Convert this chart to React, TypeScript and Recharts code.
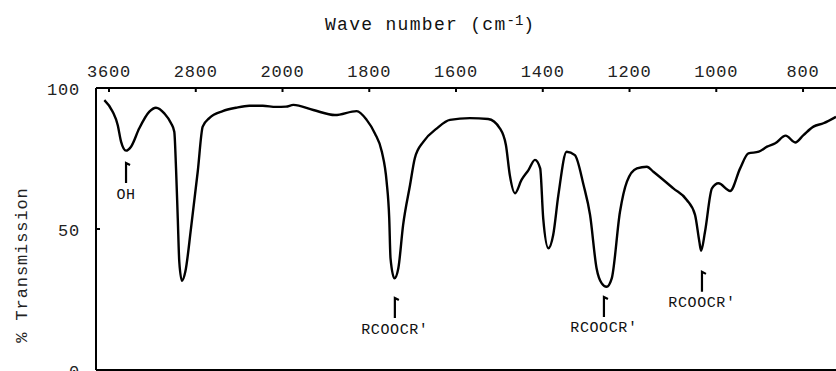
import React from 'react';
import { LineChart, Line, XAxis, YAxis, ReferenceLine, ReferenceDot } from 'recharts';

// wave number (cm-1) vs % transmission
const WAVE_NUMBERS = [
  3643, 3566, 3520, 3489, 3443, 3397, 3321, 3228, 3167, 3090, 3028, 2998, 2982, 2966,
  2952, 2927, 2896, 2844, 2782, 2736, 2675, 2551, 2429, 2306, 2182, 2060, 1992, 1975,
  1929, 1879, 1829, 1806, 1787, 1771, 1760, 1754, 1751, 1742, 1733, 1722, 1706, 1695,
  1675, 1644, 1614, 1568, 1526, 1499, 1485, 1476, 1464, 1449, 1433, 1418, 1406, 1399,
  1387, 1376, 1364, 1345, 1326, 1306, 1291, 1276, 1264, 1253, 1241, 1222, 1206, 1183,
  1160, 1145, 1099, 1068, 1049, 1039, 1035, 1026, 1010, 995, 968, 945, 926, 902, 883,
  864, 840, 818, 799, 776, 753, 724,
];
const TRANSMISSION = [
  95.7, 91.6, 86.9, 81.0, 77.8, 79.2, 85.7, 91.6, 93.0, 91.0, 87.5, 84.5, 71.5, 53.8,
  38.4, 31.6, 34.9, 50.2, 70.3, 86.3, 89.3, 91.8, 93.0, 93.7, 93.7, 93.3, 93.4, 94.0,
  92.2, 90.4, 91.8, 88.7, 83.9, 77.4, 66.8, 53.8, 39.6, 32.5, 36.1, 51.4, 65.6, 75.1,
  81.0, 85.7, 88.7, 89.3, 89.0, 85.7, 79.8, 69.1, 62.7, 67.4, 70.9, 74.5, 71.5, 53.8,
  43.2, 47.9, 62.1, 77.4, 76.2, 65.6, 55.0, 36.1, 30.7, 29.5, 32.5, 56.1, 66.8, 71.5,
  72.1, 70.3, 64.4, 60.3, 55.0, 45.5, 42.3, 49.0, 64.4, 66.2, 63.5, 71.5, 76.8, 77.4, 79.2,
  80.4, 83.1, 80.7, 83.3, 86.3, 87.5, 89.8,
];

const TICK_WAVES = [3600, 2800, 2000, 1800, 1600, 1400, 1200, 1000, 800];
const Y_TICKS = [0, 50, 100];

const PEAK_LABELS = ['OH', "RCOOCR'", "RCOOCR'", "RCOOCR'"];
const PEAK_WAVES = [3443, 1741, 1259, 1033];
const PEAK_ARROW_TOPS = [73.4, 25.5, 25.9, 34.8];

// chart paper changes scale at 2000: 800 cm-1 per division above, 200 below
const toPos = (w: number) => (w >= 2000 ? (3600 - w) / 800 : 2 + (2000 - w) / 200);

const data = WAVE_NUMBERS.map((w, i) => ({ x: toPos(w), t: TRANSMISSION[i] }));

const FONT = '"Liberation Mono", "DejaVu Sans Mono", monospace';

const TopTick = (props: any) => {
  const { x, y, payload } = props;
  return (
    <g>
      <line x1={x} y1={y} x2={x} y2={y + 4} stroke="#000" strokeWidth={2} />
      <text x={x} y={y - 11} textAnchor="middle" fontFamily={FONT} fontSize={17} letterSpacing={0.8} fill="#222">
        {TICK_WAVES[payload.index] ?? ''}
      </text>
    </g>
  );
};

const LeftTick = (props: any) => {
  const { x, y, payload } = props;
  return (
    <g>
      <line x1={x} y1={y} x2={x + 4} y2={y} stroke="#000" strokeWidth={2} />
      <text x={x - 16} y={y + 2} textAnchor="end" dominantBaseline="central" fontFamily={FONT} fontSize={17} letterSpacing={0.8} fill="#222">
        {payload.value}
      </text>
    </g>
  );
};

const peakMark = (label: string) => (props: any) => {
  const { cx, cy } = props;
  return (
    <g>
      <path d={`M${cx},${cy + 20} L${cx},${cy} L${cx + 4},${cy + 2}`} stroke="#000" strokeWidth={2.2} fill="none" />
      <text x={cx} y={cy + 32} textAnchor="middle" dominantBaseline="central" fontFamily={FONT} fontSize={15} letterSpacing={0.6} fill="#111">
        {label}
      </text>
    </g>
  );
};

export default function App() {
  return (
    <div style={{ position: 'absolute', left: 0, top: 0, width: 836, height: 371, overflow: 'hidden', background: '#fff' }}>
      <div style={{ position: 'absolute', left: 325, top: 14, fontFamily: FONT, fontSize: 18, letterSpacing: 1.3, color: '#111', whiteSpace: 'nowrap', lineHeight: '22px' }}>
        Wave number (cm<sup style={{ fontSize: 14, letterSpacing: 0, verticalAlign: 'top', position: 'relative', top: -4 }}>-1</sup>)
      </div>
      <div style={{ position: 'absolute', left: 22, top: 265, transform: 'translate(-50%, -50%) rotate(-90deg)', fontFamily: FONT, fontSize: 17, letterSpacing: 0.9, color: '#222', whiteSpace: 'nowrap' }}>
        % Transmission
      </div>
      <LineChart width={836} height={390} data={data} margin={{ top: 0, right: 0, left: 0, bottom: 20 }}>
        <XAxis
          type="number"
          dataKey="x"
          orientation="top"
          height={88}
          domain={[-0.15, 8.38]}
          allowDataOverflow
          ticks={TICK_WAVES.map(toPos)}
          interval={0}
          tickSize={0}
          tickMargin={0}
          tickLine={false}
          axisLine={{ stroke: '#000', strokeWidth: 2 }}
          tick={<TopTick />}
        />
        <YAxis
          type="number"
          domain={[0, 100]}
          ticks={Y_TICKS}
          width={96}
          interval={0}
          tickSize={0}
          tickMargin={0}
          tickLine={false}
          axisLine={{ stroke: '#000', strokeWidth: 2 }}
          tick={<LeftTick />}
        />
        <ReferenceLine y={0} stroke="#000" strokeWidth={2} ifOverflow="visible" />
        <Line
          type="monotone"
          dataKey="t"
          stroke="#000"
          strokeWidth={2.4}
          dot={false}
          isAnimationActive={false}
        />
        {PEAK_LABELS.map((label, i) => (
          <ReferenceDot
            key={i}
            x={toPos(PEAK_WAVES[i])}
            y={PEAK_ARROW_TOPS[i]}
            r={1}
            ifOverflow="visible"
            shape={peakMark(label)}
          />
        ))}
      </LineChart>
    </div>
  );
}
